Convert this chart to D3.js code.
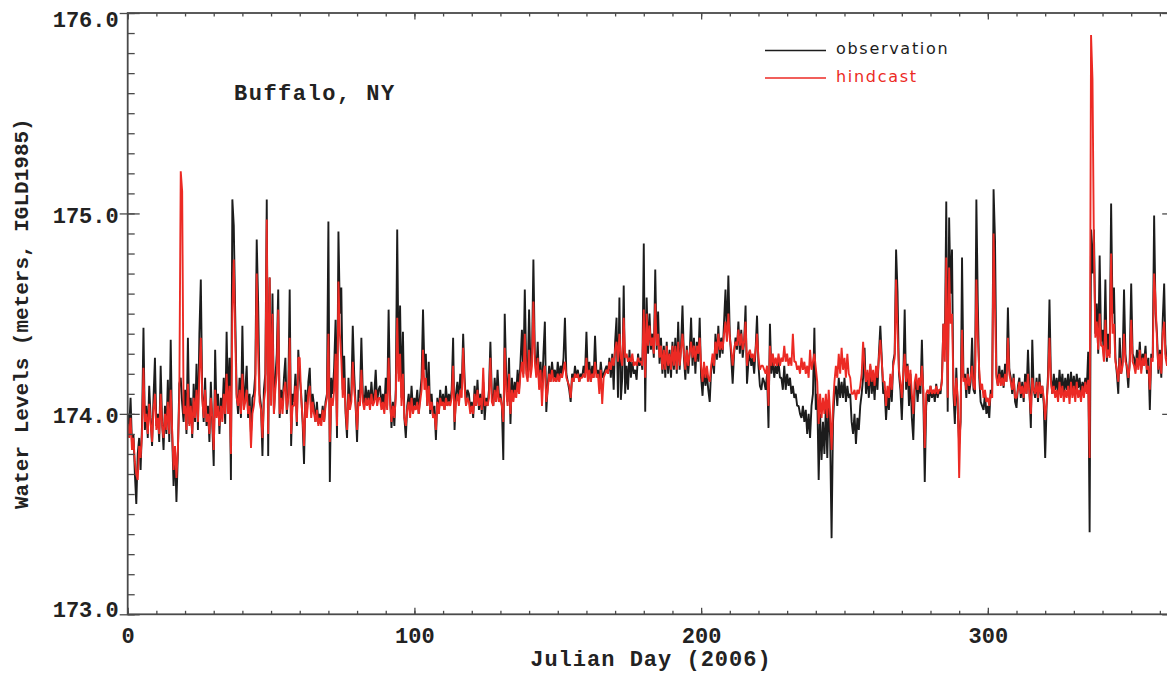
<!DOCTYPE html>
<html>
<head>
<meta charset="utf-8">
<script src="https://d3js.org/d3.v7.min.js"></script>
<style>
  body { margin: 0; background: #fff; }
  .tick-label { font-family: 'Liberation Mono', 'DejaVu Sans Mono', monospace; font-weight: bold; font-size: 22px; fill: #222; }
  .axis-title { font-family: 'Liberation Mono', 'DejaVu Sans Mono', monospace; font-weight: bold; fill: #222; }
  .legend-text { font-family: 'DejaVu Sans', sans-serif; font-size: 16px; letter-spacing: 1.7px; }
</style>
</head>
<body>
<div id="figure-container"></div>
<script>
// Buffalo, NY water levels, 2006: observation vs hindcast.
// Values are read off the picture, two samples per day starting at day 0,
// stored as centimetres above 173.00 m (e.g. 112 -> 174.12 m).
var SAMPLE_STEP = 0.5;
var BASE_LEVEL = 173;

var obsCm = [
  100,92,108,85,90,70,55,80,88,72,95,143,92,104,88,114,98,84,108,128,
  94,100,86,124,96,82,104,90,117,86,137,90,64,82,56,80,115,118,105,96,
  112,90,138,95,108,88,115,96,125,92,140,167,110,96,118,94,104,86,116,95,
  74,132,100,110,90,108,100,118,95,141,104,128,67,207,194,150,110,100,118,98,
  144,104,112,124,98,110,90,108,110,120,187,155,110,104,79,112,120,207,79,168,
  110,160,100,118,130,162,98,112,104,118,128,100,110,162,84,110,106,120,94,132,
  118,110,96,75,112,100,116,123,100,110,104,96,106,95,100,96,104,96,106,110,
  196,66,118,110,123,147,88,191,150,163,112,129,100,88,118,104,110,144,120,104,
  86,112,108,138,110,104,114,106,112,104,116,106,110,122,106,112,114,104,110,102,
  118,104,152,110,93,106,94,112,192,120,154,108,141,98,88,104,110,100,114,102,
  108,104,112,100,110,118,152,122,130,104,126,100,110,98,104,87,108,100,112,104,
  110,102,114,104,110,106,112,138,92,110,116,106,120,112,140,118,104,112,110,102,
  106,98,114,104,117,102,110,100,116,97,108,104,112,136,110,104,118,106,122,108,
  110,104,77,150,120,106,128,95,118,108,116,110,122,112,126,142,120,162,124,118,
  152,122,128,177,130,120,136,114,126,110,130,146,101,114,124,116,126,118,122,116,
  126,118,124,120,128,148,120,116,112,106,120,116,124,118,122,116,120,118,124,120,
  141,118,126,116,124,118,139,120,122,116,126,118,120,122,124,120,128,118,130,112,
  136,148,108,158,107,118,164,110,124,112,132,118,126,120,122,117,130,124,128,122,
  185,101,158,130,150,132,140,128,172,132,151,125,138,120,134,118,136,120,132,118,
  136,122,138,120,146,122,134,154,128,117,134,120,130,148,124,138,120,136,126,148,
  118,109,124,114,120,112,106,122,128,120,140,127,144,128,138,130,146,162,138,169,
  140,128,115,130,138,132,146,130,142,128,136,154,115,126,130,124,128,120,132,149,
  124,114,112,118,116,112,120,93,145,120,128,118,124,120,126,118,118,112,124,112,
  120,114,118,110,114,108,110,104,104,100,98,104,96,102,90,100,88,104,110,143,
  102,110,67,100,77,96,80,104,78,106,88,38,96,110,114,104,118,108,116,108,
  118,106,114,108,110,96,90,100,85,98,92,104,110,118,133,110,120,108,124,110,
  118,107,122,112,130,144,128,110,112,97,110,102,118,106,126,130,182,161,120,112,
  97,118,152,112,125,104,120,98,87,112,118,106,116,110,137,108,66,104,110,106,
  114,108,112,106,115,108,112,110,118,145,132,206,101,198,160,182,110,95,123,102,
  85,96,178,118,120,108,123,110,116,138,112,110,207,155,118,106,104,102,110,100,
  104,98,112,108,212,187,120,114,124,116,122,113,125,116,153,122,118,110,120,106,
  103,114,118,108,116,106,120,110,132,112,93,137,112,108,118,106,120,108,114,105,
  78,104,120,157,118,110,120,112,118,110,122,112,120,110,118,112,120,110,121,112,
  119,111,120,113,118,110,116,112,118,112,131,41,192,170,192,140,155,130,179,136,
  142,128,167,126,140,130,205,150,163,128,120,110,138,120,126,162,130,122,113,128,
  165,130,128,122,132,124,136,122,130,126,134,120,128,102,130,128,199,150,140,120,
  132,118,147,165,130,126,140,132
];

var hindcastCm = [
  95,88,98,82,88,76,70,67,84,78,90,123,96,100,90,105,96,86,102,110,
  92,98,90,110,94,88,100,92,106,90,112,92,72,84,68,82,108,221,211,100,
  104,92,115,94,104,90,108,98,112,96,120,138,108,98,112,96,100,90,108,98,
  82,112,98,104,94,104,96,110,100,120,100,114,80,150,177,138,108,104,112,100,
  120,102,106,112,100,104,83,100,104,112,170,130,106,102,88,106,112,197,90,168,
  104,150,100,112,120,152,100,108,100,112,116,102,108,138,90,104,104,114,96,128,
  128,108,98,84,106,98,110,114,98,106,100,96,102,94,98,94,102,96,104,108,
  140,86,108,104,112,130,94,166,140,127,108,118,102,92,110,102,106,126,112,104,
  92,106,104,122,106,102,108,104,108,102,110,104,106,112,104,108,108,102,106,100,
  110,102,128,106,96,104,98,108,148,116,130,104,120,98,94,102,106,98,108,100,
  104,102,106,100,106,112,132,112,118,104,114,102,106,98,100,92,106,100,108,104,
  106,102,108,104,106,104,108,124,96,106,110,104,112,108,133,114,104,108,106,100,
  104,100,110,104,112,104,108,102,123,104,106,104,108,128,106,104,112,106,114,106,
  108,104,96,133,112,104,120,100,112,106,112,108,116,110,120,126,118,140,120,116,
  132,118,124,156,126,118,128,112,122,104,120,124,106,112,120,116,122,116,118,116,
  120,116,120,118,122,126,118,116,114,108,118,116,120,118,120,116,118,118,120,118,
  128,116,122,116,120,118,126,118,120,110,122,105,118,120,122,120,126,122,128,124,
  132,136,126,140,128,124,148,128,130,126,128,126,130,124,126,124,128,126,126,124,
  152,118,150,134,144,134,138,130,155,134,140,128,134,122,132,122,134,124,130,122,
  134,124,134,122,136,124,132,140,130,122,132,124,130,136,128,134,126,134,130,138,
  124,116,126,118,124,118,116,124,130,124,136,130,140,132,136,132,140,146,136,150,
  138,132,124,132,136,134,142,134,140,132,136,146,124,130,132,128,130,126,132,140,
  128,122,124,124,122,120,124,104,134,124,130,124,128,124,130,124,128,126,134,126,
  130,124,128,124,140,126,126,122,124,120,128,122,126,120,124,118,132,122,126,130,
  123,116,95,110,98,108,100,110,98,112,100,82,104,116,124,118,130,120,133,122,
  128,118,130,120,118,110,110,112,107,112,110,114,120,136,124,116,122,114,125,116,
  122,114,124,118,128,137,126,116,116,104,114,108,120,112,124,128,167,140,122,116,
  108,120,130,116,124,114,122,110,100,116,120,112,118,114,124,112,83,110,112,110,
  114,110,112,110,114,110,112,112,116,145,126,178,108,173,145,150,114,104,118,108,
  68,100,142,116,118,112,120,114,118,124,114,112,167,138,122,112,115,108,112,106,
  108,104,110,108,190,152,118,114,120,114,118,114,120,116,138,120,116,112,118,108,
  108,112,116,110,114,108,116,110,120,110,100,118,112,110,116,108,116,110,114,108,
  97,106,116,138,116,110,114,108,112,106,116,108,114,106,112,108,114,105,116,108,
  114,106,116,108,112,106,114,108,116,110,117,78,289,267,183,138,146,132,150,134,
  134,126,147,128,132,128,180,140,145,126,122,116,128,120,124,140,126,124,118,124,
  147,126,124,120,128,122,132,120,128,124,130,122,124,112,128,126,170,157,136,122,
  130,120,140,146,128,124,134,130
];

var xMajorTicks = [0, 100, 200, 300];
var yMajorTicks = [173, 174, 175, 176];
var seriesNames = ['observation', 'hindcast'];
var seriesColors = ['#1c1c1c', '#ec2a24'];

var toSeries = function(arr) {
  return arr.map(function(v, i) { return {day: i * SAMPLE_STEP, level: BASE_LEVEL + v / 100}; });
};
var obsSeries = toSeries(obsCm);
var hindSeries = toSeries(hindcastCm);

var fullWidth = 1167;
var fullHeight = 675;
var plot = {left: 127.7, right: 1174.2, top: 13, bottom: 614.3};

var xScale = d3.scaleLinear().domain([0, 365]).range([plot.left, plot.right]);
var yScale = d3.scaleLinear().domain([173, 176]).range([plot.bottom, plot.top]);

var svg = d3.select('#figure-container')
  .append('svg')
  .attr('width', fullWidth)
  .attr('height', fullHeight)
  .style('display', 'block');

svg.append('rect').attr('width', fullWidth).attr('height', fullHeight).attr('fill', '#fff');

svg.append('defs').append('clipPath')
  .attr('id', 'clip')
  .append('rect')
  .attr('x', plot.left)
  .attr('y', plot.top)
  .attr('width', plot.right - plot.left)
  .attr('height', plot.bottom - plot.top);

// data lines (hindcast drawn over observation)
var line = d3.line()
  .x(function(d) { return xScale(d.day); })
  .y(function(d) { return yScale(d.level); });

var dataArea = svg.append('g').attr('clip-path', 'url(#clip)');
[obsSeries, hindSeries].forEach(function(s, i) {
  dataArea.append('path')
    .datum(s)
    .attr('fill', 'none')
    .attr('stroke', seriesColors[i])
    .attr('stroke-width', 1.9)
    .attr('stroke-linejoin', 'bevel')
    .attr('d', line);
});

// axes: minor ticks every 10 days / 0.1 m, major every 100 days / 1 m
var axisColor = '#4a4a4a';
var minorX = d3.range(0, 366, 10);
var minorY = d3.range(173, 176.001, 0.1);

var styleAxis = function(g) {
  g.select('.domain').remove();
  g.selectAll('.tick line').attr('stroke', axisColor).attr('stroke-width', 1.3);
};

svg.append('g')
  .attr('transform', `translate(0,${plot.bottom})`)
  .call(d3.axisBottom(xScale).tickValues(minorX).tickSize(-3.5).tickFormat(''))
  .call(styleAxis);
svg.append('g')
  .attr('transform', `translate(0,${plot.top})`)
  .call(d3.axisTop(xScale).tickValues(minorX).tickSize(-3.5).tickFormat(''))
  .call(styleAxis);

var xAxis = svg.append('g')
  .attr('transform', `translate(0,${plot.bottom})`)
  .call(d3.axisBottom(xScale).tickValues(xMajorTicks).tickSize(-6.5).tickPadding(13).tickFormat(d3.format('d')))
  .call(styleAxis);
xAxis.attr('font-size', null).attr('font-family', null);
xAxis.selectAll('text').attr('class', 'tick-label').attr('fill', null);
svg.append('g')
  .attr('transform', `translate(0,${plot.top})`)
  .call(d3.axisTop(xScale).tickValues(xMajorTicks).tickSize(-6.5).tickFormat(''))
  .call(styleAxis);

svg.append('g')
  .attr('transform', `translate(${plot.left},0)`)
  .call(d3.axisLeft(yScale).tickValues(minorY).tickSize(-7).tickFormat(''))
  .call(styleAxis);
svg.append('g')
  .attr('transform', `translate(${plot.right},0)`)
  .call(d3.axisRight(yScale).tickValues(minorY).tickSize(-7).tickFormat(''))
  .call(styleAxis);

var yAxis = svg.append('g')
  .attr('transform', `translate(${plot.left},0)`)
  .call(d3.axisLeft(yScale).tickValues(yMajorTicks).tickSize(8).tickPadding(1).tickFormat(d3.format('.1f')))
  .call(styleAxis);
yAxis.attr('font-size', null).attr('font-family', null);
// the end labels sit a little inside the frame, as in the original plot
yAxis.selectAll('text')
  .attr('class', 'tick-label')
  .attr('fill', null)
  .attr('y', function(d) { return d === 176 ? 6 : (d === 173 ? -5 : 2); });
// major y ticks also reach into the plot
yAxis.selectAll('.tick').append('line')
  .attr('x1', 0).attr('x2', 12)
  .attr('stroke', axisColor).attr('stroke-width', 1.3);
svg.append('g')
  .attr('transform', `translate(${plot.right},0)`)
  .call(d3.axisRight(yScale).tickValues(yMajorTicks).tickSize(-12).tickFormat(''))
  .call(styleAxis);

// frame
svg.append('rect')
  .attr('x', plot.left)
  .attr('y', plot.top)
  .attr('width', plot.right - plot.left)
  .attr('height', plot.bottom - plot.top)
  .attr('fill', 'none')
  .attr('stroke', axisColor)
  .attr('stroke-width', 1.8);

// titles
svg.append('text')
  .attr('class', 'axis-title')
  .attr('x', (plot.left + plot.right) / 2)
  .attr('y', 666)
  .attr('text-anchor', 'middle')
  .style('font-size', '22px')
  .style('letter-spacing', '1px')
  .text('Julian Day (2006)');

svg.append('text')
  .attr('class', 'axis-title')
  .attr('transform', `translate(28,${(plot.top + plot.bottom) / 2}) rotate(-90)`)
  .attr('text-anchor', 'middle')
  .style('font-size', '21px')
  .text('Water Levels (meters, IGLD1985)');

svg.append('text')
  .attr('class', 'axis-title')
  .attr('x', 234)
  .attr('y', 99.5)
  .style('font-size', '22px')
  .style('letter-spacing', '1.5px')
  .text('Buffalo, NY');

// legend
var legend = svg.append('g').attr('class', 'legend');
seriesNames.forEach(function(name, i) {
  var ly = 50.5 + i * 27.5;
  legend.append('line')
    .attr('x1', 765).attr('x2', 826)
    .attr('y1', ly).attr('y2', ly)
    .attr('stroke', seriesColors[i])
    .attr('stroke-width', 1.3);
  legend.append('text')
    .attr('class', 'legend-text')
    .attr('x', 836)
    .attr('y', ly + 3.5)
    .attr('fill', seriesColors[i])
    .text(name);
});
</script>
</body>
</html>
